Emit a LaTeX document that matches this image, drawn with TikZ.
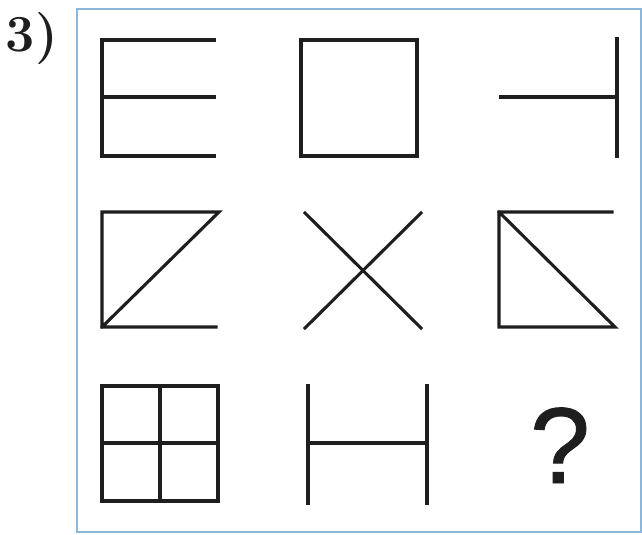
\documentclass[tikz,border=0pt]{standalone}
\usepackage{fontspec}
\newfontfamily\qfont[FakeBold=0.8]{Liberation Sans}
\definecolor{framecol}{RGB}{140,182,218}
\definecolor{ink}{RGB}{30,30,30}
\begin{document}
\begin{tikzpicture}[x=1pt,y=-1pt,
  fig/.style={line width=3.1pt,line cap=rect,line join=miter,color=ink},
  frame/.style={line width=2.2pt,color=framecol}]
\useasboundingbox (0,0) rectangle (642,535);
\fill[white] (0,0) rectangle (642,535);
\draw[frame] (77,9) rectangle (641,532);
\node[font=\bfseries\fontsize{52}{52}\selectfont,anchor=base,text=ink] (lbl) at (32,52) {3)};
% Row 1
\draw[fig] (214,40) -- (102,40) -- (102,156) -- (214,156);
\draw[fig] (102,97) -- (214,97);
\draw[fig] (301,40) rectangle (417,156);
\draw[fig] (501,97) -- (617,97);
\draw[fig] (617,39) -- (617,156);
% Row 2
\draw[fig] (216,327) -- (102,327) -- (102,212) -- (219,212) -- (102,327);
\draw[fig] (305,213) -- (421,328);
\draw[fig] (421,213) -- (305,328);
\draw[fig] (612,212) -- (499,212) -- (499,327) -- (615,327) -- (499,212);
% Row 3
\draw[fig] (102,386) rectangle (218,501);
\draw[fig] (160,386) -- (160,501);
\draw[fig] (102,443) -- (218,443);
\draw[fig] (308,386) -- (308,503);
\draw[fig] (427,386) -- (427,503);
\draw[fig] (308,443) -- (427,443);
\node[font=\qfont\fontsize{108}{108}\selectfont,text=ink,anchor=base,inner sep=0pt] (q) at (560,483) {?};
\end{tikzpicture}
\end{document}
